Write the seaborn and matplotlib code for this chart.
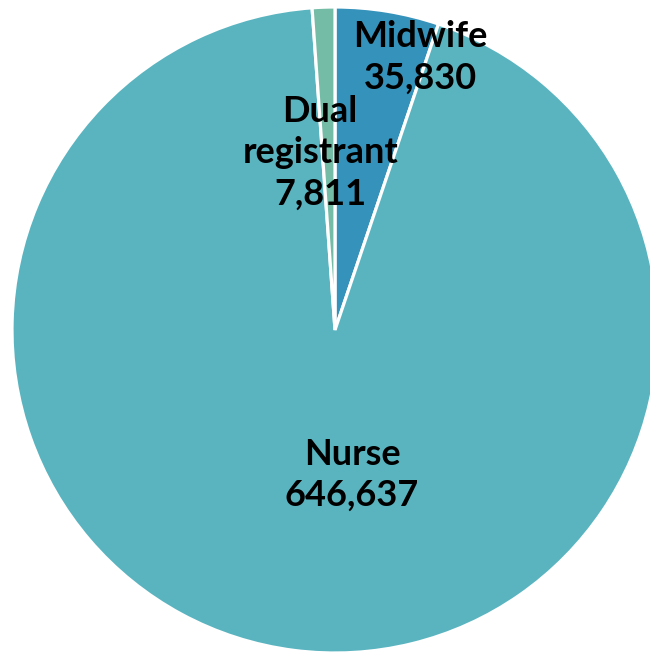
import seaborn as sns
import matplotlib.pyplot as plt
import numpy as np

# registrant types, clockwise from 12 o'clock
labels = ["Midwife", "Nurse", "Dual\nregistrant"]
counts = [35830, 646637, 7811]
colours = ["#3592bb", "#59b4c0", "#74bca6"]

sns.set_theme(style="white")
plt.rcParams['font.family'] = ['Lato', 'DejaVu Sans']

fig = plt.figure(figsize=(6.5, 6.52), dpi=100)
# pie centre near (335, 330) px, radius ~323 px
ax = fig.add_axes([12 / 650, (652 - 330 - 323) / 652, 646 / 650, 646 / 652])

wedges, _ = ax.pie(counts, colors=colours, startangle=90, counterclock=False,
                   radius=1, wedgeprops=dict(edgecolor="white", linewidth=2.3))
ax.set_xlim(-1, 1)
ax.set_ylim(-1, 1)
ax.axis("off")

# label placement (radius fraction, angle in degrees) for each slice
label_pos = [(0.885, 72.6), (0.452, -83.3), (0.55, 94.8)]
for lab, n, (r, a) in zip(labels, counts, label_pos):
    x = r * np.cos(np.radians(a))
    y = r * np.sin(np.radians(a))
    ax.text(x, y, f"{lab}\n{n:,}", ha="center", va="center",
            fontsize=26, fontweight="bold", color="black", linespacing=1.3)

fig.savefig("out.png", dpi=100)
